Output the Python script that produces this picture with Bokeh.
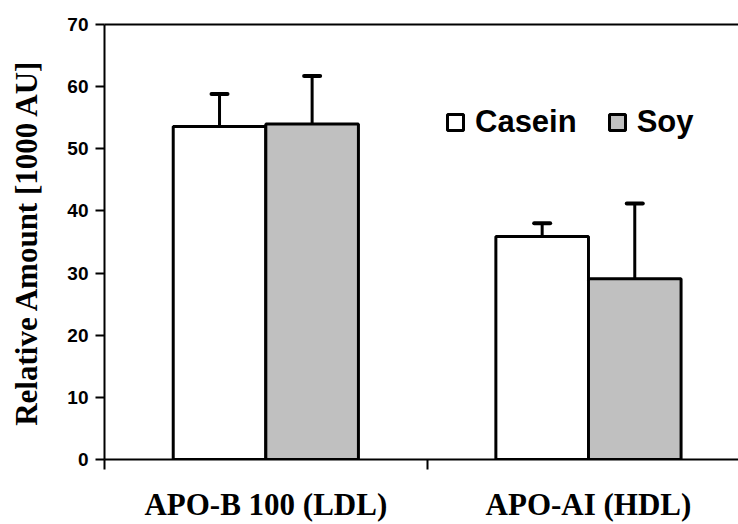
from bokeh.plotting import figure
from bokeh.models import (Range1d, FixedTicker, LinearAxis, Whisker, TeeHead,
                          ColumnDataSource, Legend, LegendItem)
from bokeh.embed import file_html
from bokeh.resources import INLINE

categories = ["APO-B 100 (LDL)", "APO-AI (HDL)"]
casein = [53.6, 35.9]
soy = [54.0, 29.1]
casein_err = [5.2, 2.1]
soy_err = [7.7, 12.1]
series_names = ["Casein", "Soy"]

bar_w = 0.287
centers = [i + 0.5 for i in range(len(categories))]
x_casein = [c - bar_w / 2 for c in centers]
x_soy = [c + bar_w / 2 for c in centers]

src_c = ColumnDataSource(dict(x=x_casein, top=casein,
                              upper=[v + e for v, e in zip(casein, casein_err)]))
src_s = ColumnDataSource(dict(x=x_soy, top=soy,
                              upper=[v + e for v, e in zip(soy, soy_err)]))

p = figure(width=738, height=524, output_backend="svg", toolbar_location=None,
           x_range=Range1d(0, 1.965), y_range=Range1d(0, 70),
           min_border_left=104, min_border_top=24, min_border_bottom=64,
           min_border_right=0)
p.outline_line_color = None
p.xgrid.visible = False
p.ygrid.visible = False

r_c = p.vbar(x="x", top="top", bottom=0, width=bar_w, source=src_c,
             fill_color="white", line_color="black", line_width=3)
r_s = p.vbar(x="x", top="top", bottom=0, width=bar_w, source=src_s,
             fill_color="#C0C0C0", line_color="black", line_width=3)

for src in (src_c, src_s):
    w = Whisker(base="x", lower="top", upper="upper", source=src,
                line_color="black", line_width=3,
                upper_head=TeeHead(size=16, line_width=4, line_color="black",
                                   line_cap="round"),
                lower_head=None)
    p.add_layout(w)

# y axis
ya = p.yaxis[0]
ya.ticker = FixedTicker(ticks=[0, 10, 20, 30, 40, 50, 60, 70], minor_ticks=[])
ya.axis_line_width = 2
ya.axis_line_color = "black"
ya.major_tick_line_width = 2
ya.major_tick_line_color = "black"
ya.major_tick_out = 9
ya.major_tick_in = 0
ya.major_label_standoff = 7
ya.major_label_text_font = "Liberation Sans"
ya.major_label_text_font_style = "bold"
ya.major_label_text_font_size = "19px"
ya.major_label_text_color = "black"
ya.axis_label = "Relative Amount [1000 AU]"
ya.axis_label_text_font = "Liberation Serif"
ya.axis_label_text_font_style = "bold"
ya.axis_label_text_font_size = "31px"
ya.axis_label_text_color = "black"
ya.axis_label_standoff = 20

# x axis
xa = p.xaxis[0]
xa.ticker = FixedTicker(ticks=centers, minor_ticks=[0, 1, 2])
xa.major_label_overrides = {c: n for c, n in zip(centers, categories)}
xa.axis_line_width = 2
xa.axis_line_color = "black"
xa.major_tick_line_color = None
xa.major_tick_out = 0
xa.minor_tick_line_width = 2
xa.minor_tick_line_color = "black"
xa.minor_tick_out = 10
xa.minor_tick_in = 0
xa.major_label_standoff = 17
xa.major_label_text_font = "Liberation Serif"
xa.major_label_text_font_style = "bold"
xa.major_label_text_font_size = "31px"
xa.major_label_text_color = "black"

# top border line
top = LinearAxis(ticker=FixedTicker(ticks=[]), major_label_text_font_size="0px",
                 axis_line_width=2, axis_line_color="black",
                 major_tick_line_color=None, minor_tick_line_color=None)
p.add_layout(top, "above")

legend = Legend(items=[LegendItem(label=series_names[0], renderers=[r_c]),
                       LegendItem(label=series_names[1], renderers=[r_s])],
                orientation="horizontal", location=(341, 319),
                glyph_width=20, glyph_height=20, label_standoff=10,
                spacing=30, padding=0, margin=0,
                border_line_color=None, background_fill_alpha=0,
                label_text_font="Liberation Sans", label_text_font_style="bold",
                label_text_font_size="31px", label_text_color="black")
p.add_layout(legend, "center")

open("out.html", "w").write(file_html(p, INLINE))
